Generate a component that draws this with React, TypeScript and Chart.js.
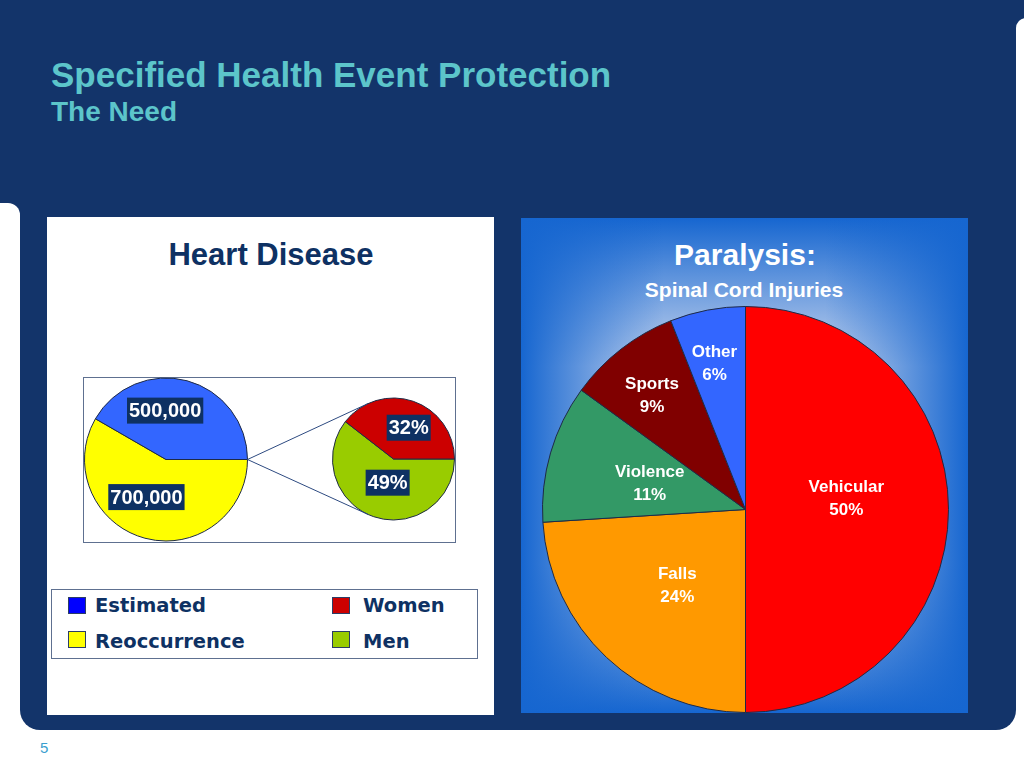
import React, { useEffect, useRef } from "react";
import { Chart, registerables } from "chart.js";

Chart.register(...registerables);

// ---------- data ----------
const heartCategories = ["Reoccurrence", "Estimated"];
const heartValues = [700000, 500000];
const heartValueLabels = ["700,000", "500,000"];
const heartColors = ["#ffff00", "#3366ff"];

const genderCategories = ["Men", "Women"];
const genderValues = [49, 32];
const genderValueLabels = ["49%", "32%"];
const genderColors = ["#99cc00", "#cc0000"];

const legendLabels = ["Estimated", "Reoccurrence", "Women", "Men"];
const legendColors = ["#0000ff", "#ffff00", "#cc0000", "#99cc00"];

const spinalCategories = ["Vehicular", "Falls", "Violence", "Sports", "Other"];
const spinalValues = [50, 24, 11, 9, 6];
const spinalColors = ["#ff0000", "#ff9900", "#339966", "#800000", "#3366ff"];

// ---------- styles ----------
const NAVY = "#13346a";
const LABEL_NAVY = "#0e3163";
const TEAL = "#5cc5ca";
const SANS = '"Liberation Sans", Arial, Helvetica, sans-serif';

type LabelCfg = {
  lines: string[][];
  radius: number[];
  shift: number[];
  font: string;
  color: string;
  lineHeight: number;
  box?: { fill: string; padX: number; h: number };
};

function sliceLabelPlugin(cfg: LabelCfg) {
  return {
    id: "sliceLabels",
    afterDatasetsDraw(chart: any) {
      const ctx = chart.ctx as CanvasRenderingContext2D;
      const arcs = chart.getDatasetMeta(0).data;
      ctx.save();
      ctx.font = cfg.font;
      ctx.textAlign = "center";
      ctx.textBaseline = "middle";
      arcs.forEach((arc: any, i: number) => {
        const p = arc.getProps(["x", "y", "startAngle", "endAngle", "outerRadius"], true);
        const mid = (p.startAngle + p.endAngle) / 2 + (cfg.shift[i] * Math.PI) / 180;
        const r = p.outerRadius * cfg.radius[i];
        const cx = p.x + Math.cos(mid) * r;
        const cy = p.y + Math.sin(mid) * r;
        const lines = cfg.lines[i];
        const n = lines.length;
        if (cfg.box) {
          const w = Math.max(...lines.map((l) => ctx.measureText(l).width));
          ctx.fillStyle = cfg.box.fill;
          ctx.fillRect(cx - w / 2 - cfg.box.padX, cy - cfg.box.h / 2, w + cfg.box.padX * 2, cfg.box.h);
        }
        ctx.fillStyle = cfg.color;
        lines.forEach((ln, k) => {
          ctx.fillText(ln, cx, cy + (k - (n - 1) / 2) * cfg.lineHeight + 1);
        });
      });
      ctx.restore();
    },
  };
}

function connectorPlugin(getMain: () => Chart | null) {
  return {
    id: "connectors",
    afterDatasetsDraw(chart: any) {
      const main = getMain();
      if (!main) return;
      const a: any = main.getDatasetMeta(0).data[0];
      const b: any = chart.getDatasetMeta(0).data[0];
      if (!a || !b) return;
      const px = a.x + a.outerRadius;
      const py = a.y;
      const d = Math.hypot(b.x - px, b.y - py);
      const base = Math.atan2(py - b.y, px - b.x);
      const th = Math.acos(Math.min(1, b.outerRadius / d));
      const ctx = chart.ctx as CanvasRenderingContext2D;
      ctx.save();
      ctx.strokeStyle = "#2d4a80";
      ctx.lineWidth = 1;
      [1, -1].forEach((s) => {
        const ang = base + s * th;
        ctx.beginPath();
        ctx.moveTo(px, py);
        ctx.lineTo(b.x + b.outerRadius * Math.cos(ang), b.y + b.outerRadius * Math.sin(ang));
        ctx.stroke();
      });
      ctx.restore();
    },
  };
}

function baseOptions(padding: any, rotation: number) {
  return {
    responsive: true,
    maintainAspectRatio: false,
    animation: false as const,
    events: [] as any[],
    rotation,
    layout: { padding },
    plugins: { legend: { display: false }, tooltip: { enabled: false } },
  };
}

function Txt(props: {
  text: string;
  left?: number;
  center?: number;
  baseline: number;
  size: number;
  color: string;
  bold?: boolean;
  family?: string;
}) {
  const { text, left, center, baseline, size, color, bold = true, family = SANS } = props;
  const style: React.CSSProperties = {
    position: "absolute",
    top: baseline - 0.8465 * size,
    fontSize: size,
    lineHeight: `${size}px`,
    fontFamily: family,
    fontWeight: bold ? 700 : 400,
    color,
    whiteSpace: "nowrap",
  };
  if (center !== undefined) {
    style.left = center - 300;
    style.width = 600;
    style.textAlign = "center";
  } else {
    style.left = left;
  }
  return <div style={style}>{text}</div>;
}

export default function App() {
  const refA = useRef<HTMLCanvasElement>(null);
  const refB = useRef<HTMLCanvasElement>(null);
  const refC = useRef<HTMLCanvasElement>(null);

  useEffect(() => {
    let chartA: Chart | null = null;
    chartA = new Chart(refA.current!, {
      type: "pie",
      data: {
        labels: heartCategories,
        datasets: [
          {
            data: heartValues,
            backgroundColor: heartColors,
            borderColor: "#1e2a46",
            borderWidth: 1,
          },
        ],
      },
      options: baseOptions({ left: 1, right: 208, top: 0, bottom: 1 }, 90) as any,
      plugins: [
        sliceLabelPlugin({
          lines: heartValueLabels.map((l) => [l]),
          radius: [0.52, 0.6],
          shift: [12.5, -16],
          font: `bold 20px ${SANS}`,
          color: "#ffffff",
          lineHeight: 22,
          box: { fill: LABEL_NAVY, padX: 2, h: 26 },
        }),
      ],
    });

    const chartB = new Chart(refB.current!, {
      type: "pie",
      data: {
        labels: genderCategories,
        datasets: [
          {
            data: genderValues,
            backgroundColor: genderColors,
            borderColor: "#1e2a46",
            borderWidth: 1,
          },
        ],
      },
      options: baseOptions({ left: 249, right: 1, top: 20, bottom: 22 }, 90) as any,
      plugins: [
        connectorPlugin(() => chartA),
        sliceLabelPlugin({
          lines: genderValueLabels.map((l) => [l]),
          radius: [0.4, 0.57],
          shift: [-5, 7],
          font: `bold 20px ${SANS}`,
          color: "#ffffff",
          lineHeight: 22,
          box: { fill: LABEL_NAVY, padX: 2, h: 26 },
        }),
      ],
    });

    const chartC = new Chart(refC.current!, {
      type: "pie",
      data: {
        labels: spinalCategories,
        datasets: [
          {
            data: spinalValues,
            backgroundColor: spinalColors,
            borderColor: "#1e2a46",
            borderWidth: 1,
          },
        ],
      },
      options: baseOptions(0, 0) as any,
      plugins: [
        sliceLabelPlugin({
          lines: spinalCategories.map((c, i) => [c, `${spinalValues[i]}%`]),
          radius: [0.5, 0.5, 0.49, 0.73, 0.74],
          shift: [-6.5, -1, -0.6, -1.3, -1.1],
          font: `bold 17px ${SANS}`,
          color: "#ffffff",
          lineHeight: 23,
        }),
      ],
    });

    return () => {
      chartA?.destroy();
      chartA = null;
      chartB.destroy();
      chartC.destroy();
    };
  }, []);

  const edge = "rgba(22,102,208,1)";
  const clear = "rgba(22,102,208,0)";
  const panelGradient = [
    `linear-gradient(to right, ${edge} 0%, ${clear} 32%, ${clear} 68%, ${edge} 100%)`,
    `linear-gradient(to bottom, ${edge} 0%, ${clear} 30%, ${clear} 70%, ${edge} 100%)`,
    "#cbd8ef",
  ].join(", ");

  const swatchLeft = [68, 68, 332, 332];
  const swatchTop = [597, 631, 597, 631];
  const textLeft = [95, 95, 363, 363];
  const textBase = [613, 649, 613, 649];

  return (
    <div
      style={{
        position: "absolute",
        left: 0,
        top: 0,
        width: 1024,
        height: 768,
        overflow: "hidden",
        background: "#ffffff",
      }}
    >
      {/* slide background shapes */}
      <div style={{ position: "absolute", left: 0, top: 0, width: 1024, height: 230, background: NAVY }} />
      <div
        style={{
          position: "absolute",
          left: 20,
          top: 0,
          width: 996,
          height: 730,
          background: NAVY,
          borderRadius: "0 0 20px 20px",
        }}
      />
      <div
        style={{
          position: "absolute",
          left: 0,
          top: 203,
          width: 20,
          height: 600,
          background: "#ffffff",
          borderTopRightRadius: 12,
        }}
      />
      <div
        style={{
          position: "absolute",
          left: 1016,
          top: 18,
          width: 20,
          height: 800,
          background: "#ffffff",
          borderTopLeftRadius: 10,
        }}
      />

      {/* titles */}
      <Txt text="Specified Health Event Protection" left={51} baseline={87} size={35} color={TEAL} />
      <Txt text="The Need" left={51} baseline={122} size={28} color={TEAL} />

      {/* left panel */}
      <div style={{ position: "absolute", left: 47, top: 217, width: 447, height: 498, background: "#ffffff" }} />
      <Txt text="Heart Disease" center={271} baseline={265} size={31} color={LABEL_NAVY} />
      <div
        style={{
          position: "absolute",
          left: 83,
          top: 377,
          width: 371,
          height: 164,
          border: "1px solid #5e7090",
        }}
      />
      <div style={{ position: "absolute", left: 83, top: 377, width: 373, height: 166 }}>
        <canvas ref={refA} />
      </div>
      <div style={{ position: "absolute", left: 83, top: 377, width: 373, height: 166 }}>
        <canvas ref={refB} />
      </div>

      {/* legend */}
      <div
        style={{
          position: "absolute",
          left: 51,
          top: 589,
          width: 425,
          height: 68,
          border: "1px solid #5e7090",
        }}
      />
      {legendLabels.map((lab, i) => (
        <React.Fragment key={lab}>
          <div
            style={{
              position: "absolute",
              left: swatchLeft[i],
              top: swatchTop[i],
              width: 16,
              height: 15,
              background: legendColors[i],
              border: "1px solid #2b3d66",
            }}
          />
          <Txt
            text={lab}
            left={textLeft[i]}
            baseline={textBase[i]}
            size={19.5}
            color={LABEL_NAVY}
            family='"DejaVu Sans", Verdana, sans-serif'
          />
        </React.Fragment>
      ))}

      {/* right panel */}
      <div
        style={{
          position: "absolute",
          left: 521,
          top: 218,
          width: 447,
          height: 495,
          background: panelGradient,
        }}
      />
      <Txt text="Paralysis:" center={745} baseline={265} size={30} color="#ffffff" />
      <Txt text="Spinal Cord Injuries" center={744} baseline={297} size={21} color="#ffffff" />
      <div style={{ position: "absolute", left: 542, top: 306, width: 407, height: 407 }}>
        <canvas ref={refC} />
      </div>

      {/* page number */}
      <Txt
        text="5"
        left={40}
        baseline={753}
        size={15}
        color="#3a9fcf"
        bold={false}
        family='"Liberation Sans Narrow", "Liberation Sans", sans-serif'
      />
    </div>
  );
}
